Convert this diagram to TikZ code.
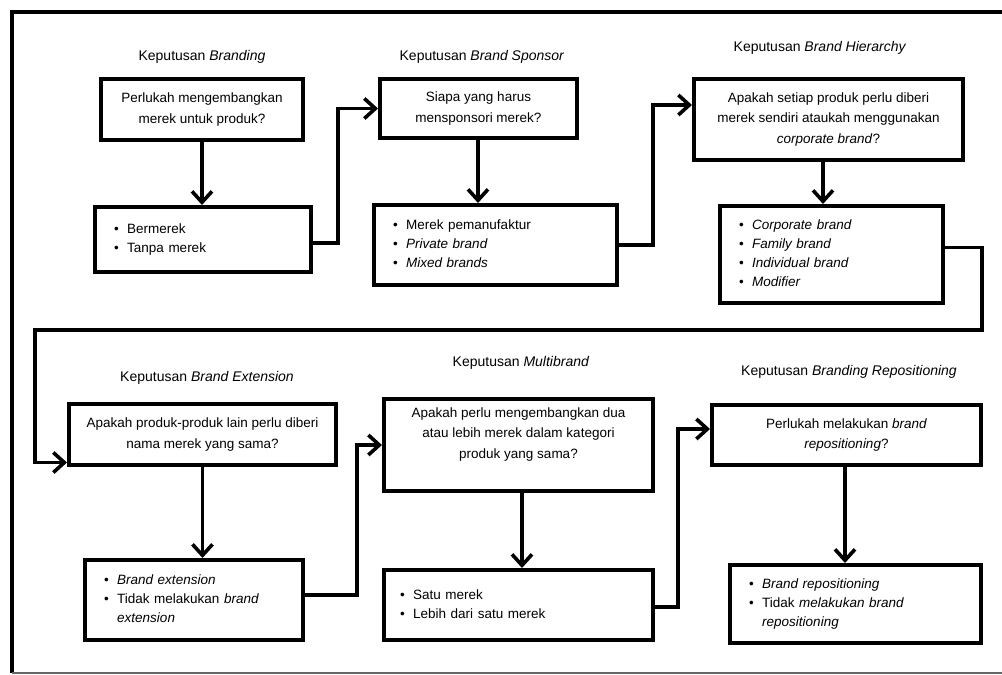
\documentclass[tikz,border=0pt]{standalone}
\usepackage{fontspec}
\setmainfont{Liberation Sans}
\usetikzlibrary{arrows.meta}
\begin{document}
\begin{tikzpicture}[x=1pt,y=-1pt,
  qbox/.style={draw=black, line width=4pt, align=center, inner sep=0pt,
    font=\fontsize{13.5}{20.5}\selectfont},
  abox/.style={draw=black, line width=4pt, align=left, inner xsep=19pt, inner ysep=0pt,
    font=\fontsize{13.5}{19}\selectfont},
  ttl/.style={font=\fontsize{14}{16}\selectfont, inner sep=0pt},
  conn/.style={line width=3.6pt, -{Straight Barb[length=11pt,width=20pt,line width=3.6pt]}},
  frame/.style={line width=3.5pt, draw=black}
]
\useasboundingbox (0,0) rectangle (1002,675);
% frame
\coordinate (fTR) at (1002,12);
\coordinate (fTL) at (12,12);
\coordinate (fBL) at (12,673);
\coordinate (fBR) at (1002,673);
\draw[frame] (fTR) -- (fTL) -- (fBL);
\draw[line width=1.5pt, draw=black!60] (fBL) -- (fBR);

\newcommand{\bl}{\textbullet}
% titles
\node[ttl] (t1) at (202,57) {Keputusan \textit{Branding}};
\node[ttl] (t2) at (482,57) {Keputusan \textit{Brand Sponsor}};
\node[ttl] (t3) at (820,48) {Keputusan \textit{Brand Hierarchy}};
\node[ttl] (t4) at (207,378) {Keputusan \textit{Brand Extension}};
\node[ttl] (t5) at (521,363) {Keputusan \textit{Multibrand}};
\node[ttl] (t6) at (849,372) {Keputusan \textit{Branding Repositioning}};

% question boxes
\node[qbox, minimum width=202, minimum height=61] (q1) at (202,109.5)
  {Perlukah mengembangkan\\merek untuk produk?};
\node[qbox, minimum width=197, minimum height=59] (q2) at (478.5,108.5)
  {Siapa yang harus\\mensponsori merek?};
\node[qbox, minimum width=269, minimum height=81] (q3) at (828.5,119.5)
  {Apakah setiap produk perlu diberi\\merek sendiri ataukah menggunakan\\\textit{corporate brand}?};
\node[qbox, minimum width=267, minimum height=61] (q4) at (202.5,434.5)
  {Apakah produk-produk lain perlu diberi\\nama merek yang sama?};
\node[qbox, minimum width=269, minimum height=92] (q5) at (518.5,445)
  {Apakah perlu mengembangkan dua\\atau lebih merek dalam kategori\\produk yang sama?\\[4pt]};
\node[qbox, minimum width=269, minimum height=60] (q6) at (846.5,435)
  {Perlukah melakukan \textit{brand}\\\textit{repositioning}?};

% answer boxes
\node[abox, text width=178, minimum height=65] (a1) at (203,239.5)
  {\begin{tabular}{@{}l@{\hspace{8.5pt}}l@{}}\bl & Bermerek\\ \bl & Tanpa merek\end{tabular}};
\node[abox, text width=205, minimum height=80] (a2) at (495.5,245)
  {\begin{tabular}{@{}l@{\hspace{8.5pt}}l@{}}\bl & Merek pemanufaktur\\ \bl & \textit{Private brand}\\ \bl & \textit{Mixed brands}\end{tabular}};
\node[abox, text width=185, minimum height=97] (a3) at (831.5,254.5)
  {\begin{tabular}{@{}l@{\hspace{8.5pt}}l@{}}\bl & \textit{Corporate brand}\\ \bl & \textit{Family brand}\\ \bl & \textit{Individual brand}\\ \bl & \textit{Modifier}\end{tabular}};
\node[abox, text width=180, minimum height=80] (a4) at (194,600)
  {\begin{tabular}{@{}l@{\hspace{8.5pt}}l@{}}\bl & \textit{Brand extension}\\ \bl & Tidak melakukan \textit{brand}\\ & \textit{extension}\end{tabular}};
\node[abox, text width=237, minimum height=70, inner xsep=16pt] (a5) at (518.5,605)
  {\begin{tabular}{@{}l@{\hspace{8.5pt}}l@{}}\bl & Satu merek\\ \bl & Lebih dari satu merek\end{tabular}};
\node[abox, text width=213, minimum height=78] (a6) at (855.5,604)
  {\begin{tabular}{@{}l@{\hspace{8.5pt}}l@{}}\bl & \textit{Brand repositioning}\\ \bl & Tidak \textit{melakukan brand}\\ & \textit{repositioning}\end{tabular}};

% down arrows
\draw[conn] (q1.south) -- (q1.south |- a1.north);
\draw[conn] ([xshift=-0.5pt]q2.south) -- ([xshift=-0.5pt]q2.south |- a2.north);
\draw[conn] ([xshift=-5.5pt]q3.south) -- ([xshift=-5.5pt]q3.south |- a3.north);
\draw[conn] (q4.south) -- (q4.south |- a4.north);
\draw[conn] ([xshift=3.5pt]q5.south) -- ([xshift=3.5pt]q5.south |- a5.north);
\draw[conn] ([xshift=-1.5pt]q6.south) -- ([xshift=-1.5pt]q6.south |- a6.north);

% connectors between stages
\draw[conn] ([yshift=-3.5pt]a1.east) -- ++(25,0) |- (q2.west);
\draw[conn] (a2.east) -- ++(34,0) |- ([yshift=14.5pt]q3.west);
\coordinate (bR) at (982,330);
\coordinate (bL) at (35,330);
\draw[conn] ([yshift=7pt]a3.east) -| (bR) -- (bL) |- ([yshift=-28pt]q4.west);
\draw[conn] ([yshift=5pt]a4.east) -- ++(52,0) |- (q5.west);
\draw[conn] ([yshift=-2pt]a5.east) -- ++(23,0) |- ([yshift=6pt]q6.west);
\end{tikzpicture}
\end{document}
